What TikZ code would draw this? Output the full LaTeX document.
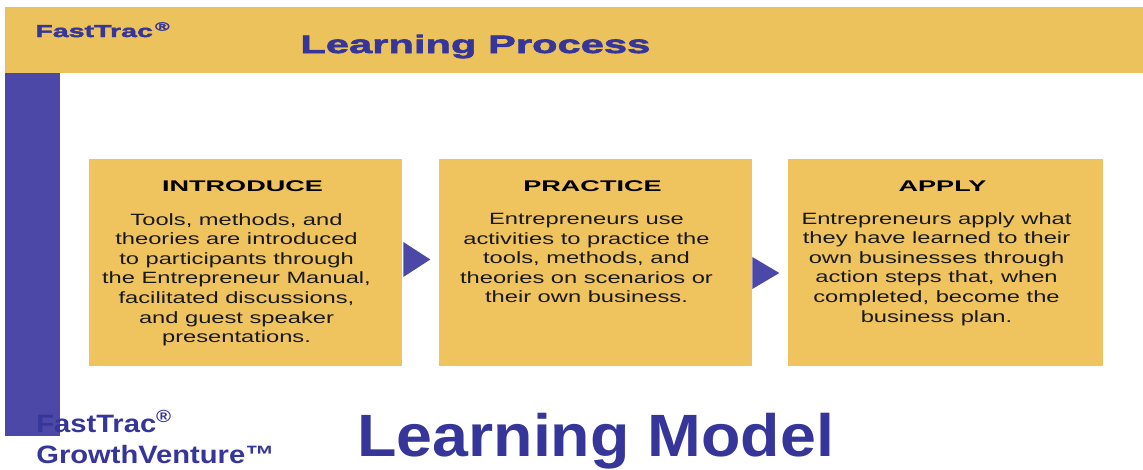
\documentclass[tikz,border=0pt]{standalone}
\usepackage{fontspec}
\setmainfont{Liberation Sans}
\newfontfamily\bodyfont[FakeStretch=1.45]{Liberation Sans}
\newfontfamily\headfont[FakeStretch=1.75]{Liberation Sans}
\newfontfamily\bannerfont[FakeStretch=1.66,BoldFeatures={FakeBold=2.5}]{Liberation Sans}
\newfontfamily\brandfont[FakeStretch=1.16]{Liberation Sans}
\newfontfamily\modelfont[FakeStretch=1.08]{Liberation Sans}
\usetikzlibrary{calc}
\definecolor{bannergold}{HTML}{EBC25B}
\definecolor{boxgold}{HTML}{EFC45F}
\definecolor{barblue}{HTML}{4B48A8}
\definecolor{titleblue}{HTML}{35359A}
\tikzset{
    stepbox/.style={fill=boxgold, minimum height=4.14cm, inner sep=0pt},
    boxhead/.style={anchor=base, inner sep=0pt, font=\headfont\bfseries\fontsize{8.8}{10}\selectfont},
    boxbody/.style={anchor=north, inner sep=0pt, align=center, text=black!90, font=\bodyfont\fontsize{9.3}{11.15}\selectfont},
    pointer/.style={fill=barblue},
    brandtext/.style={anchor=base west, inner sep=0pt, text=titleblue},
}

\begin{document}
\begin{tikzpicture}[x=0.02cm, y=-0.02cm]
    \newcommand\posI{245.5}
    \newcommand\posP{595.5}
    \newcommand\posA{945.5}
    \newcommand\posBox{262.5}

    \useasboundingbox (0,0) rectangle (1143,470);
    \fill[bannergold] (5,7) rectangle (1143,73);
    \fill[barblue] (5,73) rectangle (60,436);

    \node[brandtext, font=\bannerfont\bfseries\fontsize{9.8}{10}\selectfont] (brand) at (35,37) {FastTrac\textsuperscript{\,\textregistered}};
    \node[brandtext, font=\bannerfont\bfseries\fontsize{14.3}{16}\selectfont] (process) at (300,53) {Learning Process};

    \node[stepbox, minimum width=6.26cm] (intro) at (\posI, \posBox){};
    \node[stepbox, minimum width=6.26cm] (practice) at (\posP, \posBox){};
    \node[stepbox, minimum width=6.30cm] (apply) at (\posA, \posBox){};

    \fill[pointer] ($(intro.east)+(1,-20.5)$) -- ($(intro.east)+(28,-3)$) -- ($(intro.east)+(1,14.5)$) -- cycle;
    \fill[pointer] ($(practice.east)+(0,-5.5)$) -- ($(practice.east)+(27,10.5)$) -- ($(practice.east)+(0,26.5)$) -- cycle;

    \node[boxhead] (headI) at (\posI - 3, 191.5){INTRODUCE};
    \node[boxhead] (headP) at (\posP - 3, 191.5){PRACTICE};
    \node[boxhead] (headA) at (\posA - 3, 191.5){APPLY};

    \node[boxbody] (bodyI) at (\posI - 9, 213){Tools, methods, and\\ theories are introduced\\ to participants through\\ the Entrepreneur Manual,\\ facilitated discussions,\\ and guest speaker\\ presentations.};
    \node[boxbody] (bodyP) at (\posP - 9, 213){Entrepreneurs use\\ activities to practice the\\ tools, methods, and\\ theories on scenarios or\\ their own business.};
    \node[boxbody] (bodyA) at (\posA - 9, 212){Entrepreneurs apply what\\ they have learned to their\\ own businesses through\\ action steps that, when\\ completed, become the\\ business plan.};

    \node[brandtext, font=\brandfont\bfseries\fontsize{14.3}{16}\selectfont] (fasttrac) at (36,432){FastTrac\textsuperscript{\textregistered}};
    \node[brandtext, font=\brandfont\bfseries\fontsize{14.3}{16}\selectfont] (growth) at (36,463){GrowthVenture\texttrademark};
    \node[brandtext, font=\modelfont\bfseries\fontsize{34}{36}\selectfont] (model) at (357,456){Learning Model};
\end{tikzpicture}
\end{document}
